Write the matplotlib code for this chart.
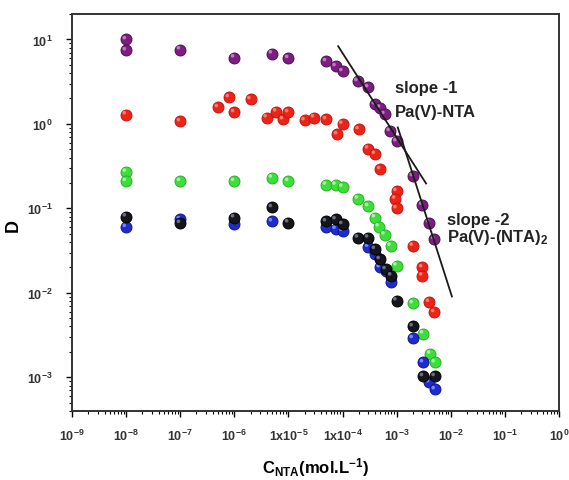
import numpy as np
import matplotlib
matplotlib.use('Agg')
import matplotlib.pyplot as plt
from matplotlib.transforms import ScaledTranslation
from matplotlib.ticker import LogLocator, NullFormatter

plt.rcParams['font.family'] = 'Liberation Sans'
plt.rcParams['font.weight'] = 'bold'
plt.rcParams['axes.labelweight'] = 'bold'
plt.rcParams['mathtext.fontset'] = 'custom'
plt.rcParams['mathtext.rm'] = 'Liberation Sans:bold'
plt.rcParams['mathtext.it'] = 'Liberation Sans:bold'
plt.rcParams['mathtext.bf'] = 'Liberation Sans:bold'

# D vs C_NTA, five data series
purple_x = [1e-8, 1e-8, 1e-7, 1e-6, 5e-6, 1e-5, 5e-5, 7.5e-5, 1e-4, 1.9e-4, 3e-4,
            4e-4, 5e-4, 6e-4, 7.5e-4, 1e-3, 2e-3, 3e-3, 4e-3, 5e-3]
purple_y = [10, 7.4, 7.6, 6.1, 6.8, 6.0, 5.5, 4.8, 4.2, 3.2, 2.7,
            1.7, 1.55, 1.3, 0.82, 0.62, 0.24, 0.11, 0.068, 0.043]

red_x = [1e-8, 1e-7, 5e-7, 8e-7, 1e-6, 2e-6, 4e-6, 6e-6, 8e-6, 1e-5, 2e-5, 3e-5,
         5e-5, 8e-5, 1e-4, 2e-4, 3e-4, 4e-4, 5e-4, 1e-3, 9.5e-4, 1e-3, 2e-3, 3e-3,
         3e-3, 4e-3, 5e-3]
red_y = [1.29, 1.07, 1.57, 2.06, 1.37, 1.95, 1.19, 1.4, 1.13, 1.37, 1.1, 1.19,
         1.13, 0.75, 1.0, 0.86, 0.51, 0.44, 0.29, 0.16, 0.13, 0.10, 0.036, 0.020,
         0.016, 0.0078, 0.0059]

green_x = [1e-8, 1e-8, 1e-7, 1e-6, 5e-6, 1e-5, 5e-5, 7.5e-5, 1e-4, 1.95e-4, 3e-4,
           4e-4, 4.7e-4, 6e-4, 7.8e-4, 1e-3, 2e-3, 3.1e-3, 4.2e-3, 5.1e-3]
green_y = [0.27, 0.21, 0.21, 0.21, 0.23, 0.21, 0.19, 0.19, 0.18, 0.13, 0.106,
           0.078, 0.061, 0.049, 0.036, 0.021, 0.0075, 0.0033, 0.0019, 0.0015]

blue_x = [1e-8, 1e-7, 1e-6, 5e-6, 5e-5, 7.5e-5, 1e-4, 3e-4, 4e-4, 4.9e-4, 6.3e-4,
          7.8e-4, 2e-3, 3.1e-3, 4e-3, 5.1e-3]
blue_y = [0.060, 0.074, 0.065, 0.070, 0.060, 0.057, 0.054, 0.035, 0.029, 0.020,
          0.018, 0.0133, 0.0029, 0.0015, 0.00087, 0.00072]

black_x = [1e-8, 1e-7, 1e-6, 5e-6, 1e-5, 5e-5, 7.5e-5, 1e-4, 1.95e-4, 3e-4, 4e-4,
           4.9e-4, 6.3e-4, 8e-4, 1e-3, 2e-3, 3.1e-3, 5.1e-3]
black_y = [0.080, 0.067, 0.078, 0.103, 0.068, 0.070, 0.074, 0.065, 0.045, 0.045,
           0.033, 0.025, 0.019, 0.016, 0.0081, 0.0040, 0.00103, 0.00103]

# slope lines
slope1_x = [8.3e-5, 3.5e-3]
slope1_y = [6.9e-4 / v for v in slope1_x]
slope2_x = [1.05e-3, 1.05e-2]
slope2_y = [1.0e-6 / v ** 2 for v in slope2_x]

xtick_vals = [1e-9, 1e-8, 1e-7, 1e-6, 1e-5, 1e-4, 1e-3, 1e-2, 1e-1, 1e0]
xtick_labels = [r'$10^{-9}$', r'$10^{-8}$', r'$10^{-7}$', r'$10^{-6}$',
                r'$1x10^{-5}$', r'$1x10^{-4}$', r'$10^{-3}$', r'$10^{-2}$',
                r'$10^{-1}$', r'$10^{0}$']
ytick_vals = [1e-3, 1e-2, 1e-1, 1e0, 1e1]
ytick_labels = [r'$10^{-3}$', r'$10^{-2}$', r'$10^{-1}$', r'$10^{0}$', r'$10^{1}$']

fig = plt.figure(figsize=(5.69, 4.81), dpi=100)
ax = fig.add_axes([0.1265, 0.1435, 0.8559, 0.8253])

shine_off = ax.transData + ScaledTranslation(-1.3 / 72, 1.3 / 72, fig.dpi_scale_trans)

def balls(xs, ys, face, edge, shine, z0):
    # one ball at a time so later balls hide the shine of earlier ones
    for i, (x, y) in enumerate(zip(xs, ys)):
        z = z0 + i * 0.01
        ax.scatter([x], [y], s=62, c=face, edgecolors=edge, linewidths=0.7, zorder=z)
        ax.scatter([x], [y], s=7, c=shine, edgecolors='none', alpha=0.85,
                   zorder=z + 0.005, transform=shine_off)

balls(purple_x, purple_y, '#7b1e80', '#4d0f52', '#c98bd0', 3)
balls(red_x, red_y, '#ec2418', '#c01510', '#ff8a80', 4)
balls(green_x, green_y, '#3ede3a', '#27b025', '#b6f7b2', 5)
balls(blue_x, blue_y, '#1c2cd2', '#0e178a', '#8a95ff', 6)
balls(black_x, black_y, '#15151c', '#000000', '#7a7f95', 7)

ax.plot(slope1_x, slope1_y, color='#1a1a1a', lw=1.3, zorder=10)
ax.plot(slope2_x, slope2_y, color='#1a1a1a', lw=1.3, zorder=10)

ax.text(9.3e-4, 2.36, 'slope -1', fontsize=12, color='#222222', va='baseline')
ax.text(9.3e-4, 1.23, 'Pa(V)-NTA', fontsize=12, color='#222222', va='baseline')
ax.text(8.5e-3, 0.065, 'slope -2', fontsize=12, color='#222222', va='baseline')
ax.text(8.5e-3, 0.041, r'Pa(V)-(NTA)$_2$', fontsize=12, color='#222222', va='baseline')

ax.set_xscale('log')
ax.set_yscale('log')
ax.set_xlim(1e-9, 1)
ax.set_ylim(4e-4, 20)
ax.set_xticks(xtick_vals, labels=xtick_labels)
ax.set_yticks(ytick_vals, labels=ytick_labels)
ax.xaxis.set_minor_locator(LogLocator(base=10, subs=np.arange(2, 10) * 1.0, numticks=30))
ax.yaxis.set_minor_locator(LogLocator(base=10, subs=np.arange(2, 10) * 1.0, numticks=30))
ax.xaxis.set_minor_formatter(NullFormatter())
ax.yaxis.set_minor_formatter(NullFormatter())
ax.tick_params(which='major', direction='out', length=4, width=1, labelsize=9,
               labelcolor='#333333')
ax.tick_params(axis='x', which='major', pad=8)
ax.tick_params(axis='y', which='major', pad=10)
ax.tick_params(which='minor', direction='out', length=2.5, width=0.8)
ax.tick_params(top=False, right=False, which='both')

for sp in ax.spines.values():
    sp.set_linewidth(1.4)
    sp.set_color('#333333')

ax.set_xlabel(r'C$_{\mathrm{NTA}}$(mol.L$^{-1}$)', fontsize=12, fontweight='bold')
ax.set_ylabel('D', fontsize=13, fontweight='bold')
ax.xaxis.set_label_coords(0.5, -0.112)
ax.yaxis.set_label_coords(-0.103, 0.47)

fig.savefig('out.png', dpi=100)
